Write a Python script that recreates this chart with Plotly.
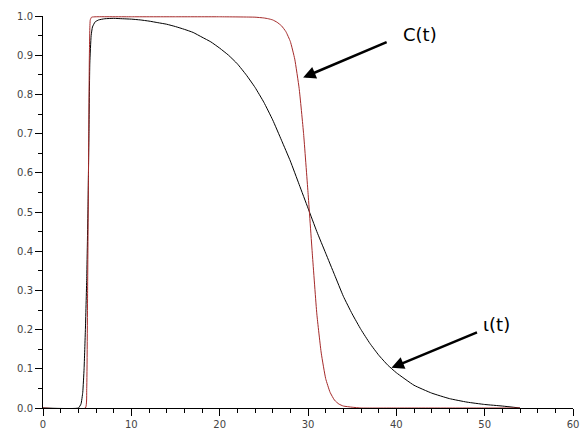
import plotly.graph_objects as go

# iota(t) - black curve
t_iota = [0, 4.0, 4.3, 4.5, 4.65, 4.8, 4.95, 5.1, 5.2, 5.3, 5.45, 5.6, 5.9, 6.3, 7, 8, 9,
          10, 11, 12, 13, 14, 15, 16, 17, 18, 19, 20, 21, 22, 23, 24, 25, 26, 27, 28, 29,
          30, 31, 32, 33, 34, 35, 36, 37, 38, 39, 40, 42, 44, 46, 48, 50, 52, 54]
v_iota = [0, 0, 0.01, 0.04, 0.1, 0.2, 0.33, 0.52, 0.7, 0.88, 0.95, 0.972, 0.985, 0.99, 0.993, 0.994, 0.993,
          0.992, 0.99, 0.987, 0.983, 0.979, 0.973, 0.966, 0.958, 0.946, 0.934, 0.918, 0.9, 0.878, 0.85,
          0.818, 0.78, 0.735, 0.683, 0.63, 0.57, 0.51, 0.45, 0.395, 0.34, 0.285, 0.24, 0.2, 0.165,
          0.135, 0.11, 0.09, 0.058, 0.038, 0.024, 0.015, 0.009, 0.005, 0.0]

# C(t) - red curve
t_c = [0, 4.8, 4.95, 5.05, 5.15, 5.25, 5.35, 5.5, 6, 10, 15, 20, 24, 25, 25.5, 26, 26.5, 27, 27.5,
       28, 28.5, 29, 29.5, 30, 30.5, 31, 31.5, 32, 32.5, 33, 33.5, 34, 35, 36, 40, 45, 50, 54]
v_c = [0, 0, 0.05, 0.3, 0.6, 0.9, 0.99, 0.997, 0.998, 0.998, 0.998, 0.998, 0.997, 0.995, 0.993, 0.99,
       0.984, 0.975, 0.96, 0.935, 0.89, 0.815, 0.7, 0.55, 0.39, 0.24, 0.14, 0.075, 0.04, 0.02, 0.01,
       0.005, 0.002, 0.0, 0, 0, 0, 0]

x_ticks = [0, 10, 20, 30, 40, 50, 60]
y_ticks = [0.0, 0.1, 0.2, 0.3, 0.4, 0.5, 0.6, 0.7, 0.8, 0.9, 1.0]

fig = go.Figure()
fig.add_trace(go.Scatter(x=t_iota, y=v_iota, mode="lines",
                         line=dict(color="black", width=1, shape="spline", smoothing=0.4),
                         cliponaxis=False, showlegend=False))
fig.add_trace(go.Scatter(x=t_c, y=v_c, mode="lines",
                         line=dict(color="#a52a2a", width=1, shape="spline", smoothing=0.4),
                         cliponaxis=False, showlegend=False))

arrow_style = dict(showarrow=True, arrowhead=2, arrowsize=1, arrowwidth=2.5, arrowcolor="black",
                   text="", xref="x", yref="y")
fig.add_annotation(x=29.45, y=0.843, ax=85, ay=-36, **arrow_style)
fig.add_annotation(x=39.45, y=0.1026, ax=87, ay=-36, **arrow_style)
fig.add_annotation(x=42.7, y=0.953, text="C(t)", showarrow=False,
                   font=dict(family="DejaVu Sans", size=18, color="black"))
fig.add_annotation(x=51.3, y=0.213, text="ι(t)", showarrow=False,
                   font=dict(family="DejaVu Sans", size=18, color="black"))

axis_common = dict(showgrid=False, zeroline=False, showline=True, linecolor="black", linewidth=1,
                   ticks="outside", ticklen=7, tickcolor="black", tickwidth=1, automargin=False,
                   tickfont=dict(family="DejaVu Sans", size=10, color="#444"))
fig.update_xaxes(range=[0, 60], tickvals=x_ticks, ticktext=[str(v) for v in x_ticks],
                 minor=dict(dtick=2, ticks="outside", ticklen=4, tickcolor="black"), **axis_common)
fig.update_yaxes(range=[0, 1.0], tickvals=y_ticks, ticktext=[f"{v:.1f}" for v in y_ticks],
                 minor=dict(dtick=0.05, ticks="outside", ticklen=4, tickcolor="black"), **axis_common)

fig.update_layout(width=584, height=430, margin=dict(l=43, r=11, t=16, b=22),
                  plot_bgcolor="white", paper_bgcolor="white")
fig.write_html("out.html", config={"displayModeBar": False},
               post_script="document.body.style.margin='0';document.body.style.overflow='hidden';")
